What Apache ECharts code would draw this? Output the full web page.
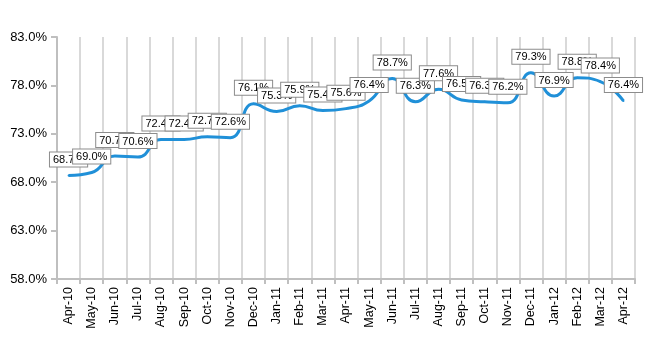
<!DOCTYPE html>
<html><head><meta charset="utf-8">
<script src="https://cdn.jsdelivr.net/npm/echarts@6/dist/echarts.min.js"></script>
<style>html,body{margin:0;padding:0;background:#fff}#c{width:650px;height:350px}</style>
</head><body><div id="c"></div>
<script>
var categories = ["Apr-10","May-10","Jun-10","Jul-10","Aug-10","Sep-10","Oct-10","Nov-10","Dec-10","Jan-11","Feb-11","Mar-11","Apr-11","May-11","Jun-11","Jul-11","Aug-11","Sep-11","Oct-11","Nov-11","Dec-11","Jan-12","Feb-12","Mar-12","Apr-12"];
var values = [68.7,69.0,70.7,70.6,72.4,72.4,72.7,72.6,76.1,75.3,75.9,75.4,75.6,76.4,78.7,76.3,77.6,76.5,76.3,76.2,79.3,76.9,78.8,78.4,76.4];
var yMin = 58, yMax = 83, yStep = 5;
var chart = echarts.init(document.getElementById('c'));
chart.setOption({
  animation:false,
  grid:{left:57,right:15,top:37,bottom:71},
  xAxis:{type:'category',data:categories,boundaryGap:true,
    axisLine:{lineStyle:{color:'#bfbfbf',width:2}},
    axisTick:{show:true,length:5,lineStyle:{color:'#bfbfbf',width:2}},
    axisLabel:{rotate:90,color:'#000',fontSize:12.5,fontFamily:'Liberation Sans',margin:8,interval:0},
    splitLine:{show:true,lineStyle:{color:'#d9d9d9',width:2}}},
  yAxis:{type:'value',min:yMin,max:yMax,interval:yStep,
    axisLine:{show:true,lineStyle:{color:'#bfbfbf',width:2}},
    axisTick:{show:true,length:6,lineStyle:{color:'#bfbfbf',width:2}},
    splitLine:{show:false},
    axisLabel:{formatter:function(v){return v.toFixed(1)+'%';},color:'#000',fontSize:13,fontFamily:'Liberation Sans',margin:10}},
  series:[{type:'line',data:values,smooth:0.5,symbol:'circle',symbolSize:2,showSymbol:true,showAllSymbol:true,
    itemStyle:{color:'#2090d8'},
    lineStyle:{color:'#2090d8',width:3},
    label:{show:true,position:'top',distance:8,
      formatter:function(p){return p.value.toFixed(1)+'%';},
      color:'#000',fontSize:11,fontFamily:'Liberation Sans',
      backgroundColor:'#fff',borderColor:'#8c8c8c',borderWidth:1,padding:[2,3,1,3]}}]
});
</script></body></html>
